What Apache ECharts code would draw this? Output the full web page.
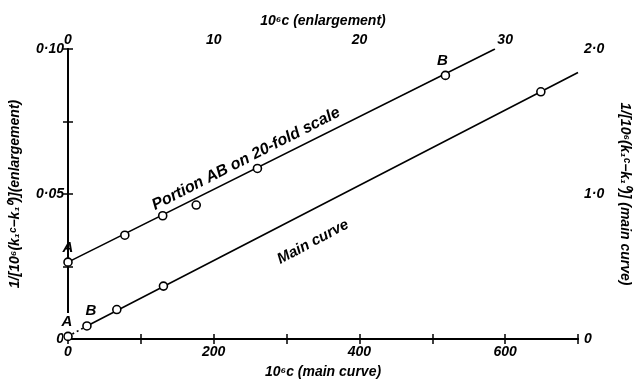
<!DOCTYPE html>
<html><head><meta charset="utf-8">
<script src="https://cdn.jsdelivr.net/npm/echarts@6/dist/echarts.min.js"></script>
<style>html,body{margin:0;padding:0;background:#fff}#c{width:640px;height:384px}</style>
</head><body><div id="c"></div>
<script>
// Enlargement (top x axis: 10^6 c, left y axis)
const enlX = [0, 3.9, 6.5, 8.8, 13.0, 25.9];
const enlY = [0.0265, 0.0358, 0.0425, 0.0462, 0.0588, 0.0909];
const enlLabels = ['A', '', '', '', '', 'B'];
const enlFitX = [0, 29.3];
const enlFitY = [0.0265, 0.1];
// Main curve (bottom x axis, right y axis)
const mainX = [0, 26, 67, 131, 649];
const mainY = [0.018, 0.090, 0.203, 0.365, 1.705];
const mainLabels = ['A', 'B', '', '', ''];
const mainFitX = [26, 700];
const mainFitY = [0.090, 1.838];
const mainDotX = [0, 26];
const mainDotY = [0.018, 0.090];
// Tick labels
const bottomTicks = [0, 200, 400, 600];
const topTicks = [0, 10, 20, 30];
const leftTickVals = [0, 0.05, 0.1];
const leftTickText = ['0', '0·05', '0·10'];
const rightTickVals = [0, 1, 2];
const rightTickText = ['0', '1·0', '2·0'];

const FONT = '"Liberation Sans", Arial, sans-serif';
const near = (a, b) => Math.abs(a - b) < 1e-9;
const pairs = (xs, ys) => xs.map((x, i) => [x, ys[i]]);
const lblStyle = {fontFamily: FONT, fontStyle: 'italic', fontWeight: 'bold', fontSize: 14, color: '#000'};
const nameStyle = {fontFamily: FONT, fontStyle: 'italic', fontWeight: 'bold', fontSize: 14, color: '#000'};
const axisLine = {show: true, lineStyle: {color: '#000', width: 1.8}};
const axisTick = {show: true, inside: true, length: 5, lineStyle: {color: '#000', width: 1.5}};
const ptStyle = {color: '#fff', borderColor: '#000', borderWidth: 1.6, opacity: 1};

const chart = echarts.init(document.getElementById('c'), null, {renderer: 'canvas'});
chart.setOption({
  animation: false,
  backgroundColor: '#fff',
  grid: {left: 67, right: 48, top: 49, bottom: 39, containLabel: false},
  xAxis: [
    {type: 'value', position: 'bottom', min: 0, max: 700, interval: 100,
     axisLine, axisTick, splitLine: {show: false},
     axisLabel: Object.assign({margin: 6, formatter: v => bottomTicks.includes(v) ? String(v) : ''}, lblStyle),
     name: '10⁶c (main curve)', nameLocation: 'middle', nameGap: 26, nameTextStyle: nameStyle},
    {type: 'value', position: 'top', min: 0, max: 35, interval: 5,
     axisLine, axisTick, splitLine: {show: false},
     axisLabel: Object.assign({margin: 2, formatter: v => topTicks.includes(v) ? String(v) : ''}, lblStyle),
     name: '10⁶c (enlargement)', nameLocation: 'middle', nameGap: 21, nameTextStyle: nameStyle}
  ],
  yAxis: [
    {type: 'value', position: 'left', min: 0, max: 0.1, interval: 0.025,
     axisLine, axisTick, splitLine: {show: false},
     axisLabel: Object.assign({margin: 4, formatter: v => {const i = leftTickVals.findIndex(t => near(t, v)); return i >= 0 ? leftTickText[i] : '';}}, lblStyle),
     name: '1/[10⁶(k₁ᶜ−k₁⁰)](enlargement)', nameLocation: 'middle', nameGap: 46, nameRotate: 90, nameTextStyle: nameStyle},
    {type: 'value', position: 'right', min: 0, max: 2, interval: 0.5,
     axisLine, axisTick, splitLine: {show: false},
     axisLabel: Object.assign({margin: 6, formatter: v => {const i = rightTickVals.findIndex(t => near(t, v)); return i >= 0 ? rightTickText[i] : '';}}, lblStyle),
     name: '1/[10⁶(k₁ᶜ−k₁⁰)] (main curve)', nameLocation: 'middle', nameGap: 40, nameRotate: -90, nameTextStyle: nameStyle}
  ],
  series: [
    {type: 'line', xAxisIndex: 1, yAxisIndex: 0, data: pairs(enlFitX, enlFitY), showSymbol: false,
     lineStyle: {color: '#000', width: 1.6}, z: 2},
    {type: 'line', xAxisIndex: 0, yAxisIndex: 1, data: pairs(mainFitX, mainFitY), showSymbol: false,
     lineStyle: {color: '#000', width: 1.6}, z: 2},
    {type: 'line', xAxisIndex: 0, yAxisIndex: 1, data: pairs(mainDotX, mainDotY), showSymbol: false,
     lineStyle: {color: '#000', width: 1.6, type: [2, 3]}, z: 2},
    {type: 'scatter', xAxisIndex: 1, yAxisIndex: 0, symbol: 'circle', symbolSize: 8,
     itemStyle: ptStyle, z: 3,
     data: enlX.map((x, i) => ({value: [x, enlY[i]],
       label: {show: !!enlLabels[i], formatter: enlLabels[i], position: 'top', distance: 2,
               offset: i === 5 ? [-3, 0] : [0, 0], fontFamily: FONT, fontStyle: 'italic', fontWeight: 'bold', fontSize: 15, color: '#000', opacity: 1}}))},
    {type: 'scatter', xAxisIndex: 0, yAxisIndex: 1, symbol: 'circle', symbolSize: 8,
     itemStyle: ptStyle, z: 3,
     data: mainX.map((x, i) => ({value: [x, mainY[i]],
       label: {show: !!mainLabels[i], formatter: mainLabels[i], position: 'top', distance: 2,
               offset: i === 1 ? [4, -1] : [-1, 0], fontFamily: FONT, fontStyle: 'italic', fontWeight: 'bold', fontSize: 15, color: '#000', opacity: 1}}))}
  ],
  graphic: [
    {type: 'rect', shape: {x: 63, y: 313, width: 8, height: 28}, style: {fill: '#fff'}, z: 1, silent: true},
    {type: 'text', x: 246, y: 159, rotation: 27 * Math.PI / 180, z: 10,
     style: {text: 'Portion AB on 20-fold scale', font: 'italic bold 16px "Liberation Sans", Arial, sans-serif', fill: '#000', align: 'center', verticalAlign: 'middle'}},
    {type: 'text', x: 313, y: 242, rotation: 28 * Math.PI / 180, z: 10,
     style: {text: 'Main curve', font: 'italic bold 15px "Liberation Sans", Arial, sans-serif', fill: '#000', align: 'center', verticalAlign: 'middle'}}
  ]
});
</script></body></html>
